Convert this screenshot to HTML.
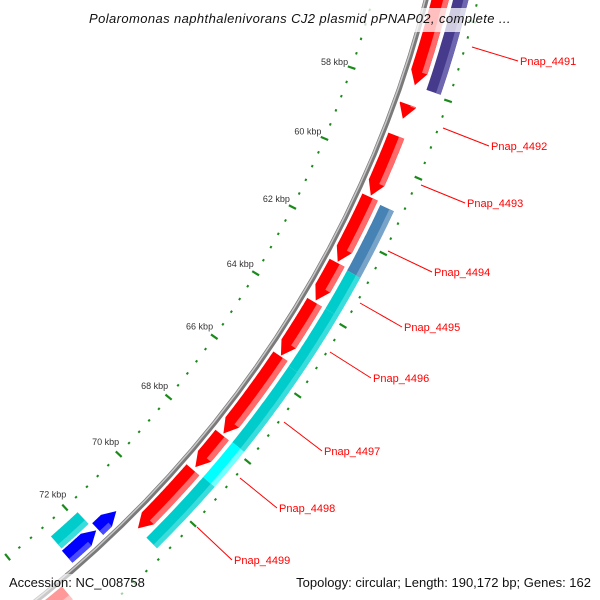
<!DOCTYPE html>
<html><head><meta charset="utf-8">
<style>
html,body{margin:0;padding:0;background:#fff;width:600px;height:600px;overflow:hidden;}
svg{display:block;font-family:"Liberation Sans",sans-serif;overflow:hidden;}
</style></head>
<body>
<svg id="map" width="600" height="600" viewBox="0 0 600 600"></svg>
<script>
// data (kbp)
const ring1Starts = [50, 58.41, 59.24, 60.90, 62.73, 63.86, 65.45, 67.89, 69.02, 73.40];
const ring1Ends   = [57.90, 58.79, 60.86, 62.70, 63.81, 65.43, 67.84, 68.93, 71.02, 78];
const ring1Colors = ['red','red','red','red','red','red','red','red','red','red'];
const ring2Starts = [50, 60.97, 62.78, 63.86, 65.54, 67.87, 68.99];
const ring2Ends   = [57.92, 62.78, 63.86, 65.54, 67.87, 68.99, 71.03];
const ring2Colors = ['purple','steel','cyan','cyan','cyan','bright','cyan'];
const innerCyanStarts = [71.84];
const innerCyanEnds = [72.78];
const innerBlueStarts = [71.10, 71.81];
const innerBlueEnds = [71.76, 72.81];
const majorTicks = [58,60,62,64,66,68,70,72];
const tickLabels = ['58 kbp','60 kbp','62 kbp','64 kbp','66 kbp','68 kbp','70 kbp','72 kbp'];
const geneNames = ['Pnap_4491','Pnap_4492','Pnap_4493','Pnap_4494','Pnap_4495','Pnap_4496','Pnap_4497','Pnap_4498','Pnap_4499'];
const labelX = [520,491,467,434,404,373,324,279,234];
const labelY = [61,146,203,272,327,378,451,508,560];
const lineX1 = [472,443,421,388,360,330,284,240,197];
const lineY1 = [47,128,185,251,303,352,422,478,527];

const NS='http://www.w3.org/2000/svg';
const svg=document.getElementById('map');
const CX=-666, CY=-282;
function ang(k){return (-8.045+2.0174*k)*Math.PI/180;}
function pt(k,r){const t=ang(k);return [CX+r*Math.sin(t), CY-r*Math.cos(t)];}
function mk(tag,attrs){const e=document.createElementNS(NS,tag);for(const a in attrs)e.setAttribute(a,attrs[a]);svg.appendChild(e);return e;}
function arcPts(k1,k2,r){const n=40,p=[];for(let i=0;i<=n;i++)p.push(pt(k1+(k2-k1)*i/n,r));return p;}
const AH=0.35;
function genePath(k1,k2,r1,r2,arrow){
  let p=[];
  if(arrow==='end'&&k2-k1>AH){
    p=p.concat(arcPts(k1,k2-AH,r2));p.push(pt(k2,(r1+r2)/2));p=p.concat(arcPts(k2-AH,k1,r1));
  }else if(arrow==='start'&&k2-k1>AH){
    p.push(pt(k1,(r1+r2)/2));p=p.concat(arcPts(k1+AH,k2,r2));p=p.concat(arcPts(k2,k1+AH,r1));
  }else{p=p.concat(arcPts(k1,k2,r2));p=p.concat(arcPts(k2,k1,r1));}
  return 'M'+p.map(q=>q[0].toFixed(1)+','+q[1].toFixed(1)).join('L')+'Z';
}
const pal={red:['#ff0000','#ff6a6a'],purple:['#453a8c','#6e66ae'],steel:['#4682b4','#78a4ca'],cyan:['#00cccc','#3adcdc'],bright:['#00ffff','#70ffff'],blue:['#0000ff','#4a4aff']};

// backbone
const bb=mk('path',{d:'M'+arcPts(45,80,1128).map(q=>q[0].toFixed(1)+','+q[1].toFixed(1)).join('L'),fill:'none',stroke:'#7a7a7a','stroke-width':5});

const bb2=mk('path',{d:'M'+arcPts(45,80,1127).map(q=>q[0].toFixed(1)+','+q[1].toFixed(1)).join('L'),fill:'none',stroke:'#c8c8c8','stroke-width':1.5});


function drawGene(k1,k2,r1,r2,col,arrow,name){
  const g=mk('path',{d:genePath(k1,k2,r1,r2,arrow),fill:pal[col][0]});
  
  let h1=k1,h2=k2;
  if(arrow==='end'&&k2-k1>AH)h2=k2-AH;
  if(arrow==='start'&&k2-k1>AH)h1=k1+AH;
  if(h2>h1){
    const h=mk('path',{d:genePath(h1,h2,r2-(r2-r1)*0.33,r2,'none'),fill:pal[col][1]});
    
  }
}
for(let i=0;i<ring1Starts.length;i++)drawGene(ring1Starts[i],ring1Ends[i],1133,1150,ring1Colors[i],'end','forward-gene');
for(let i=0;i<ring2Starts.length;i++)drawGene(ring2Starts[i],ring2Ends[i],1154,1169,ring2Colors[i],'none','reverse-gene');
for(let i=0;i<innerCyanStarts.length;i++)drawGene(innerCyanStarts[i],innerCyanEnds[i],1088,1104,'cyan','none','inner-gene');
for(let i=0;i<innerBlueStarts.length;i++)drawGene(innerBlueStarts[i],innerBlueEnds[i],1106,1122,'blue','start','inner-blue-gene');

// ticks
for(let k=50;k<=80.001;k+=0.4){
  const kk=Math.round(k*10)/10;
  const major=Math.abs(kk/2-Math.round(kk/2))<0.01;
  [1076,1178].forEach(r=>{
    const a=pt(kk,r-(major?4:1)),b=pt(kk,r+(major?4:1));
    const t=mk('line',{x1:a[0],y1:a[1],x2:b[0],y2:b[1],stroke:'#1a8a1a','stroke-width':major?2.2:2.4,'stroke-linecap':'butt'});
    
    
  });
}
for(let i=0;i<majorTicks.length;i++){
  const p=pt(majorTicks[i],1058);
  const t=mk('text',{x:p[0],y:p[1]+3,'font-size':9,fill:'#333','text-anchor':'middle'});
  t.textContent=tickLabels[i];
  
  
}
// gene labels
for(let i=0;i<geneNames.length;i++){
  const l=mk('line',{x1:lineX1[i],y1:lineY1[i],x2:labelX[i]-2,y2:labelY[i],stroke:'#ff0000','stroke-width':1});
  
  
  const t=mk('text',{x:labelX[i],y:labelY[i]+4,'font-size':11,fill:'#ff0000'});
  t.textContent=geneNames[i];
  
  
}
// title & footer
const tb=mk('rect',{x:0,y:8,width:600,height:24,fill:'#fff','fill-opacity':0.75});

const tt=mk('text',{x:300,y:23,'font-size':13,'font-style':'italic',fill:'#111','text-anchor':'middle','letter-spacing':0.4});
tt.textContent='Polaromonas naphthalenivorans CJ2 plasmid pPNAP02, complete ...';

const fb=mk('rect',{x:0,y:574,width:600,height:26,fill:'#fff','fill-opacity':0.6});

const f1=mk('text',{x:9,y:587,'font-size':13,fill:'#111'});
f1.textContent='Accession: NC_008758';

const f2=mk('text',{x:591,y:587,'font-size':13,fill:'#111','text-anchor':'end'});
f2.textContent='Topology: circular; Length: 190,172 bp; Genes: 162';

</script>
</body></html>
